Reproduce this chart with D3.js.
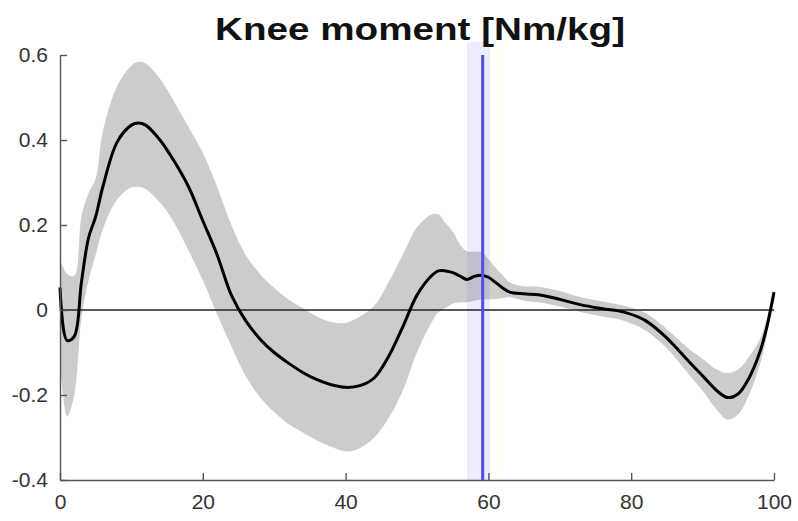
<!DOCTYPE html>
<html>
<head>
<meta charset="utf-8">
<script src="https://cdn.jsdelivr.net/npm/d3@7"></script>
<style>
    body { margin: 0; background: #fff; }
    text { font-family: "Liberation Sans", Arial, Helvetica, sans-serif; }
</style>
</head>
<body>
<div class="line-chart"></div>
<script>
// DATA ------------------------------------

// gait cycle [%]
const cycle = [0, 1, 2, 3, 4, 5, 6, 8, 10, 11, 12, 14, 16, 18, 20, 22, 24, 26, 28, 30,
    32, 34, 36, 38, 40, 42, 44, 46, 48, 50, 52, 53, 54, 55, 56, 57, 58, 59, 60, 61,
    62, 63, 65, 67, 70, 73, 76, 79, 82, 85, 88, 90, 92, 93.5, 95, 96.5, 98, 99, 100]

// mean knee moment [Nm/kg]
const meanMoment = [0.053, -0.072, -0.062, 0.065, 0.17, 0.22, 0.29, 0.395, 0.435, 0.44, 0.435, 0.40, 0.35, 0.29, 0.21, 0.13, 0.035, -0.025, -0.068, -0.1,
    -0.125, -0.147, -0.164, -0.176, -0.182, -0.178, -0.16, -0.11, -0.04, 0.035, 0.08, 0.092, 0.092, 0.088, 0.08, 0.072, 0.079, 0.082, 0.077, 0.065,
    0.052, 0.042, 0.038, 0.036, 0.025, 0.012, 0.003, -0.005, -0.025, -0.066, -0.12, -0.155, -0.19, -0.206, -0.197, -0.16, -0.1, -0.04, 0.042]

// mean + sd
const upperMoment = [0.12, 0.085, 0.08, 0.22, 0.275, 0.31, 0.42, 0.527, 0.575, 0.584, 0.58, 0.544, 0.49, 0.43, 0.37, 0.29, 0.2, 0.13, 0.085, 0.052,
    0.025, 0.005, -0.015, -0.028, -0.03, -0.015, 0.01, 0.065, 0.13, 0.195, 0.225, 0.225, 0.205, 0.185, 0.155, 0.138, 0.137, 0.137, 0.12, 0.1,
    0.082, 0.065, 0.056, 0.055, 0.045, 0.03, 0.02, 0.01, -0.007, -0.045, -0.09, -0.115, -0.14, -0.148, -0.14, -0.11, -0.07, -0.02, 0.045]

// mean - sd
const lowerMoment = [-0.12, -0.25, -0.2, -0.02, 0.07, 0.13, 0.19, 0.26, 0.288, 0.29, 0.285, 0.253, 0.205, 0.14, 0.07, -0.01, -0.085, -0.155, -0.205, -0.24,
    -0.268, -0.288, -0.307, -0.322, -0.333, -0.325, -0.3, -0.255, -0.19, -0.1, -0.03, -0.005, 0.005, 0.015, 0.018, 0.018, 0.022, 0.025, 0.025, 0.026,
    0.028, 0.03, 0.022, 0.018, 0.008, -0.005, -0.015, -0.025, -0.048, -0.09, -0.15, -0.19, -0.235, -0.258, -0.245, -0.2, -0.13, -0.06, 0.04]

// toe-off event: mean and range
const toeOff = 59.2
const toeOffRange = [57.0, 60.2]
const toeOffRange2 = [60.2, 61.6]

const xTicks = [0, 20, 40, 60, 80, 100]
const xTickLabels = ["0", "20", "40", "60", "80", "100"]
const yTicks = [-0.4, -0.2, 0, 0.2, 0.4, 0.6]
const yTickLabels = ["-0.4", "-0.2", "0", "0.2", "0.4", "0.6"]

const chartTitle = "Knee moment [Nm/kg]"

// CHART INIT ------------------------------
const margin = {top: 55, right: 24, bottom: 41, left: 60}
const width = 798 - margin.left - margin.right
const height = 521 - margin.top - margin.bottom

const svg_base = d3.select(".line-chart").append("svg")
        .attr("width", width + margin.left + margin.right)
        .attr("height", height + margin.top + margin.bottom)
const svg = svg_base
    .append("g")
        .attr("transform", "translate(" + margin.left + "," + margin.top + ")")

const xScale = d3.scaleLinear()
    .domain([0, 100])
    .range([0, width])

const yScale = d3.scaleLinear()
    .domain([-0.4, 0.6])
    .range([height, 0])

const data = cycle.map((c, i) => ({x: c, m: meanMoment[i], hi: upperMoment[i], lo: lowerMoment[i]}))

// sd band
const band = d3.area()
    .x(d => xScale(d.x))
    .y0(d => yScale(d.lo))
    .y1(d => yScale(d.hi))
    .curve(d3.curveCatmullRom.alpha(0.5))

svg.append("path")
    .datum(data)
    .attr("d", band)
    .attr("fill", "#cccccc")

// toe-off range
svg.append("rect")
    .attr("x", xScale(toeOffRange2[0]))
    .attr("y", yScale(0.63))
    .attr("width", xScale(toeOffRange2[1]) - xScale(toeOffRange2[0]))
    .attr("height", yScale(-0.4) - yScale(0.63))
    .attr("fill", "rgba(255, 235, 150, 0.07)")

svg.append("rect")
    .attr("x", xScale(toeOffRange[0]))
    .attr("y", yScale(0.63))
    .attr("width", xScale(toeOffRange[1]) - xScale(toeOffRange[0]))
    .attr("height", yScale(-0.4) - yScale(0.63))
    .attr("fill", "rgba(110, 110, 235, 0.13)")

// zero line
svg.append("line")
    .attr("x1", xScale(0))
    .attr("x2", xScale(100))
    .attr("y1", yScale(0))
    .attr("y2", yScale(0))
    .attr("stroke", "#222")
    .attr("stroke-width", 1.3)

// mean line
const meanLine = d3.line()
    .x(d => xScale(d.x))
    .y(d => yScale(d.m))
    .curve(d3.curveCatmullRom.alpha(0.5))

svg.append("path")
    .datum(data)
    .attr("d", meanLine)
    .attr("fill", "none")
    .attr("stroke", "#000")
    .attr("stroke-width", 3)
    .attr("stroke-linejoin", "round")

// toe-off line
svg.append("line")
    .attr("x1", xScale(toeOff))
    .attr("x2", xScale(toeOff))
    .attr("y1", yScale(0.6))
    .attr("y2", yScale(-0.4))
    .attr("stroke", "#4f4fe0")
    .attr("stroke-width", 3)

// axes
const xAx = d3.axisBottom(xScale)
    .tickValues(xTicks)
    .tickFormat(d => xTickLabels[xTicks.indexOf(d)])
    .tickSizeInner(-7)
    .tickSizeOuter(0)
    .tickPadding(14)

const yAx = d3.axisLeft(yScale)
    .tickValues(yTicks)
    .tickFormat(d => yTickLabels[yTicks.indexOf(d)])
    .tickSizeInner(-7)
    .tickSizeOuter(0)
    .tickPadding(12)

const xGroup = svg.append("g")
        .attr("class", "x-axis")
        .attr("transform", `translate(0, ${height})`)
        .call(xAx)

const yGroup = svg.append("g")
        .attr("class", "y-axis")
        .call(yAx)

svg.selectAll(".x-axis, .y-axis")
    .call(g => g.select(".domain").attr("stroke", "#555").attr("stroke-width", 1.4))
    .call(g => g.selectAll(".tick line").attr("stroke", "#555").attr("stroke-width", 1.4))
    .call(g => g.selectAll(".tick text")
        .attr("fill", "#333")
        .style("font-size", "21px")
        .style("font-family", "'Liberation Sans', Arial, Helvetica, sans-serif"))

// title
svg_base.append("text")
    .attr("x", 420)
    .attr("y", 40)
    .attr("text-anchor", "middle")
    .attr("font-weight", "bold")
    .attr("font-size", 31)
    .attr("fill", "#111")
    .attr("textLength", 410)
    .attr("lengthAdjust", "spacingAndGlyphs")
    .text(chartTitle)
</script>
</body>
</html>
